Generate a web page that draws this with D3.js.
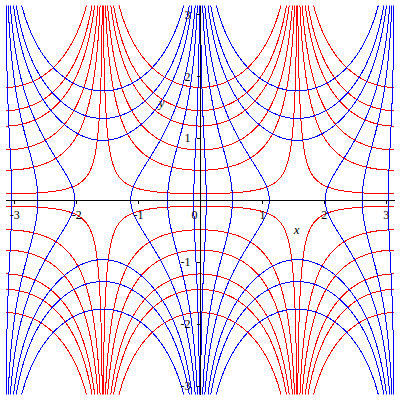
<!DOCTYPE html>
<html><head><meta charset="utf-8">
<script src="https://cdn.jsdelivr.net/npm/d3@7"></script>
<style>body{margin:0;background:#fff}svg{display:block}</style>
</head><body><svg id="c" width="400" height="400"></svg>
<script>
// Level values
// red curves: Im(sin z) = cos(x)·sinh(y) = level
const redLevels = [-3, -2, -1.5, -0.9, -0.5, -0.1, 0.1, 0.5, 0.9, 1.5, 2, 3];
// blue curves: Re(sin z) = sin(x)·cosh(y) = level
const blueLevels = [-3, -2, -1.5, -0.9, -0.5, -0.1, 0.1, 0.5, 0.9, 1.5, 2, 3];
const xDomain = [-Math.PI, Math.PI];
const yDomain = [-Math.PI, Math.PI];
const xTickLabels = [-3, -2, -1, 0, 1, 2, 3];
const yTickLabels = [-3, -2, -1, 1, 2, 3];
const minorTicks = [-2.5, -1.5, -0.5, 0.5, 1.5, 2.5];

const svg = d3.select("#c");
const xs = d3.scaleLinear().domain(xDomain).range([5.5, 394.5]);
const ys = d3.scaleLinear().domain(yDomain).range([394.5, 5.5]);
const PI = Math.PI;

svg.append("clipPath").attr("id", "clip").append("rect")
  .attr("x", xs(-PI)).attr("y", ys(PI))
  .attr("width", xs(PI) - xs(-PI)).attr("height", ys(-PI) - ys(PI));

const line = d3.line().x(d => xs(d[0])).y(d => ys(d[1]));
const g = svg.append("g").attr("clip-path", "url(#clip)");

// red level curves y = asinh(c / cos x) on each interval between asymptotes
const intervals = [[-PI, -PI / 2], [-PI / 2, PI / 2], [PI / 2, PI]];
const redPaths = [];
redLevels.forEach(c => {
  intervals.forEach(([a, b]) => {
    const pts = [];
    const N = 4000;
    for (let i = 1; i < N; i++) {
      const x = a + (b - a) * i / N;
      const y = Math.asinh(c / Math.cos(x));
      if (Math.abs(y) <= 3.4) pts.push([x, y]);
    }
    if (pts.length > 1) redPaths.push(pts);
  });
});

// blue level curves sin x cosh y = c, parametrised by y
const bluePaths = [];
blueLevels.forEach(c => {
  const other = x1 => (c > 0 ? PI - x1 : -PI - x1);
  if (Math.abs(c) < 1) {
    const p1 = [], p2 = [];
    const N = 600;
    for (let i = 0; i <= N; i++) {
      const y = -3.4 + 6.8 * i / N;
      const x1 = Math.asin(c / Math.cosh(y));
      p1.push([x1, y]);
      p2.push([other(x1), y]);
    }
    bluePaths.push(p1, p2);
  } else {
    const y0 = Math.acosh(Math.abs(c));
    [1, -1].forEach(s => {
      const b1 = [], b2 = [];
      const N = 600;
      for (let i = 0; i <= N; i++) {
        const t = i / N;
        const y = y0 + (3.4 - y0) * t * t;
        const arg = Math.max(-1, Math.min(1, c / Math.cosh(y)));
        const x1 = Math.asin(arg);
        b1.push([x1, s * y]);
        b2.push([other(x1), s * y]);
      }
      bluePaths.push(b1.reverse().concat(b2));
    });
  }
});

g.selectAll("path.red").data(redPaths).join("path").attr("class", "red")
  .attr("d", line).attr("fill", "none").attr("stroke", "#ff0000")
  .attr("stroke-width", 1).attr("shape-rendering", "crispEdges");
g.selectAll("path.blue").data(bluePaths).join("path").attr("class", "blue")
  .attr("d", line).attr("fill", "none").attr("stroke", "#0000ff")
  .attr("stroke-width", 1).attr("shape-rendering", "crispEdges");

// axes
const fmt = d => (d < 0 ? "-" + Math.abs(d) : String(d));
const font = "'Liberation Serif', 'Times New Roman', serif";

const xAxisG = svg.append("g").attr("transform", `translate(0,${Math.round(ys(0)) + 0.5})`);
xAxisG.call(d3.axisBottom(xs).tickValues(minorTicks).tickSize(2).tickFormat(""));
xAxisG.call(d3.axisBottom(xs).tickValues(xTickLabels).tickSize(3).tickPadding(6.5).tickFormat(fmt));
const yAxisG = svg.append("g").attr("transform", `translate(${Math.round(xs(0)) + 0.5},0)`);
yAxisG.call(d3.axisLeft(ys).tickValues(minorTicks).tickSize(2).tickFormat(""));
yAxisG.call(d3.axisLeft(ys).tickValues(yTickLabels).tickSize(4).tickPadding(6).tickFormat(fmt));

svg.selectAll(".domain").remove();
svg.selectAll(".tick line").attr("stroke", "#000").attr("shape-rendering", "crispEdges");
svg.selectAll(".tick text").attr("font-family", font).attr("font-size", 12).attr("fill", "#000");
xAxisG.selectAll(".tick text").filter(d => d === 0).attr("dx", -6);

// full axis lines
svg.append("line").attr("x1", xs(-PI)).attr("x2", xs(PI))
  .attr("y1", Math.round(ys(0)) + 0.5).attr("y2", Math.round(ys(0)) + 0.5)
  .attr("stroke", "#000").attr("shape-rendering", "crispEdges");
svg.append("line").attr("y1", ys(PI)).attr("y2", ys(-PI))
  .attr("x1", Math.round(xs(0)) + 0.5).attr("x2", Math.round(xs(0)) + 0.5)
  .attr("stroke", "#000").attr("shape-rendering", "crispEdges");

// axis titles
svg.append("text").attr("x", xs(1.56)).attr("y", 234).attr("text-anchor", "middle")
  .attr("font-family", font).attr("font-style", "italic").attr("font-size", 13).text("x");
svg.append("text").attr("x", xs(-0.62)).attr("y", 107).attr("text-anchor", "middle")
  .attr("font-family", font).attr("font-style", "italic").attr("font-size", 13).text("y");
</script></body></html>
